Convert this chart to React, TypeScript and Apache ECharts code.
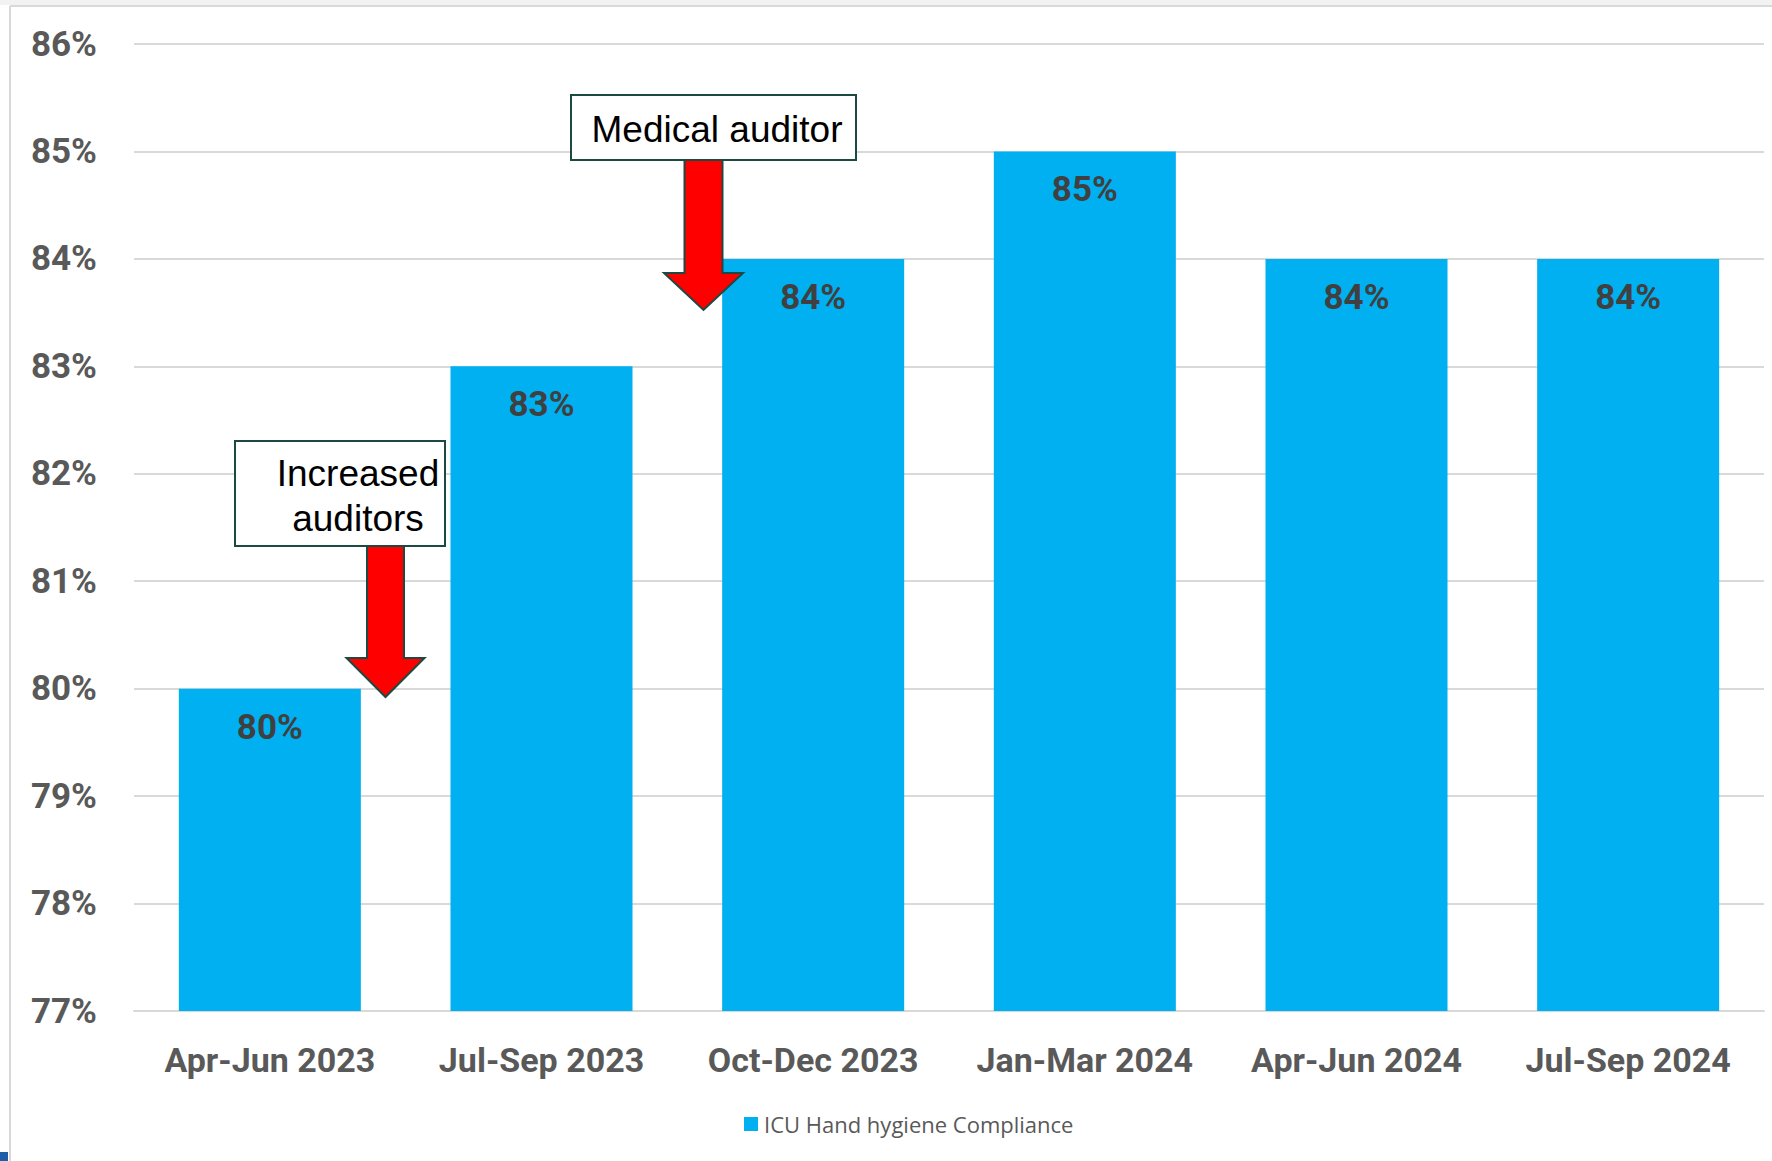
import React, { useEffect, useRef } from "react";
import * as echarts from "echarts";

const categories = ["Apr-Jun 2023", "Jul-Sep 2023", "Oct-Dec 2023", "Jan-Mar 2024", "Apr-Jun 2024", "Jul-Sep 2024"];
const compliance = [80, 83, 84, 85, 84, 84];
const seriesName = "ICU Hand hygiene Compliance";
const yMin = 77;
const yMax = 86;
const yStep = 1;

const BLUE = "#00B0F0";
const EDGE = "#1B4A43";

function arrow(cx: number, top: number, shaftHalf: number, headStart: number, headHalf: number, tip: number) {
  return {
    type: "polygon",
    shape: {
      points: [
        [cx - shaftHalf, top],
        [cx + shaftHalf, top],
        [cx + shaftHalf, headStart],
        [cx + headHalf, headStart],
        [cx, tip],
        [cx - headHalf, headStart],
        [cx - shaftHalf, headStart],
      ],
    },
    style: { fill: "#FF0000", stroke: EDGE, lineWidth: 2 },
    z: 20,
  };
}

export default function App() {
  const ref = useRef<HTMLDivElement>(null);
  useEffect(() => {
    document.body.style.margin = "0";
    const chart = echarts.init(ref.current!, null, { renderer: "svg" });
    chart.setOption({
      animation: false,
      backgroundColor: "#ffffff",
      grid: { left: 134, right: 8, top: 44, bottom: 150 },
      legend: {
        data: [seriesName],
        left: 739,
        top: 1108,
        itemWidth: 14,
        itemHeight: 14,
        itemGap: 6,
        icon: "rect",
        textStyle: { fontSize: 22, color: "#595959", fontFamily: "Open Sans", padding: [0, 0, 0, 1] },
      },
      xAxis: {
        type: "category",
        data: categories,
        axisLine: { lineStyle: { color: "#d9d9d9", width: 2 } },
        axisTick: { show: false },
        axisLabel: { interval: 0, color: "#595959", fontSize: 34, fontWeight: "bold", fontFamily: "Roboto", margin: 32 },
      },
      yAxis: {
        type: "value",
        min: yMin,
        max: yMax,
        interval: yStep,
        axisLine: { show: false },
        axisTick: { show: false },
        splitLine: { lineStyle: { color: "#d9d9d9", width: 2 } },
        axisLabel: {
          formatter: "{value}%",
          color: "#595959",
          fontSize: 35,
          fontWeight: "bold",
          fontFamily: "Roboto",
          margin: 37,
        },
      },
      series: [
        {
          name: seriesName,
          type: "bar",
          data: compliance,
          barCategoryGap: "33%",
          itemStyle: { color: BLUE },
          label: {
            show: true,
            position: "insideTop",
            distance: 21,
            formatter: "{c}%",
            color: "#404040",
            fontSize: 35,
            fontWeight: "bold",
            fontFamily: "Roboto",
          },
        },
      ],
      graphic: [
        { type: "rect", shape: { x: 0, y: 0, width: 1772, height: 5 }, style: { fill: "#f2f2f2" }, z: 1 },
        { type: "line", shape: { x1: 10, y1: 6, x2: 1772, y2: 6 }, style: { stroke: "#d9d9d9", lineWidth: 2 }, z: 1 },
        { type: "line", shape: { x1: 10, y1: 6, x2: 10, y2: 1161 }, style: { stroke: "#d9d9d9", lineWidth: 2 }, z: 1 },
        { type: "rect", shape: { x: 0, y: 1152, width: 8, height: 9 }, style: { fill: "#1F5FA8" }, z: 1 },
        // Increased auditors box
        { type: "rect", shape: { x: 235, y: 441, width: 210, height: 105 }, style: { fill: "#ffffff", stroke: EDGE, lineWidth: 2 }, z: 19 },
        {
          type: "text",
          z: 21,
          style: {
            text: "Increased\nauditors",
            x: 358,
            y: 496,
            textAlign: "center",
            textVerticalAlign: "middle",
            fill: "#000000",
            font: '37px "Liberation Sans"',
            lineHeight: 45,
          },
        },
        arrow(385.5, 546, 18.5, 658, 39, 697),
        // Medical auditor box
        { type: "rect", shape: { x: 571, y: 95, width: 285, height: 65 }, style: { fill: "#ffffff", stroke: EDGE, lineWidth: 2 }, z: 19 },
        {
          type: "text",
          z: 21,
          style: {
            text: "Medical auditor",
            x: 717,
            y: 129,
            textAlign: "center",
            textVerticalAlign: "middle",
            fill: "#000000",
            font: '37px "Liberation Sans"',
          },
        },
        arrow(703.5, 160, 19, 273, 39.5, 310),
      ],
    });
    return () => chart.dispose();
  }, []);
  return <div ref={ref} style={{ width: 1772, height: 1161 }} />;
}
